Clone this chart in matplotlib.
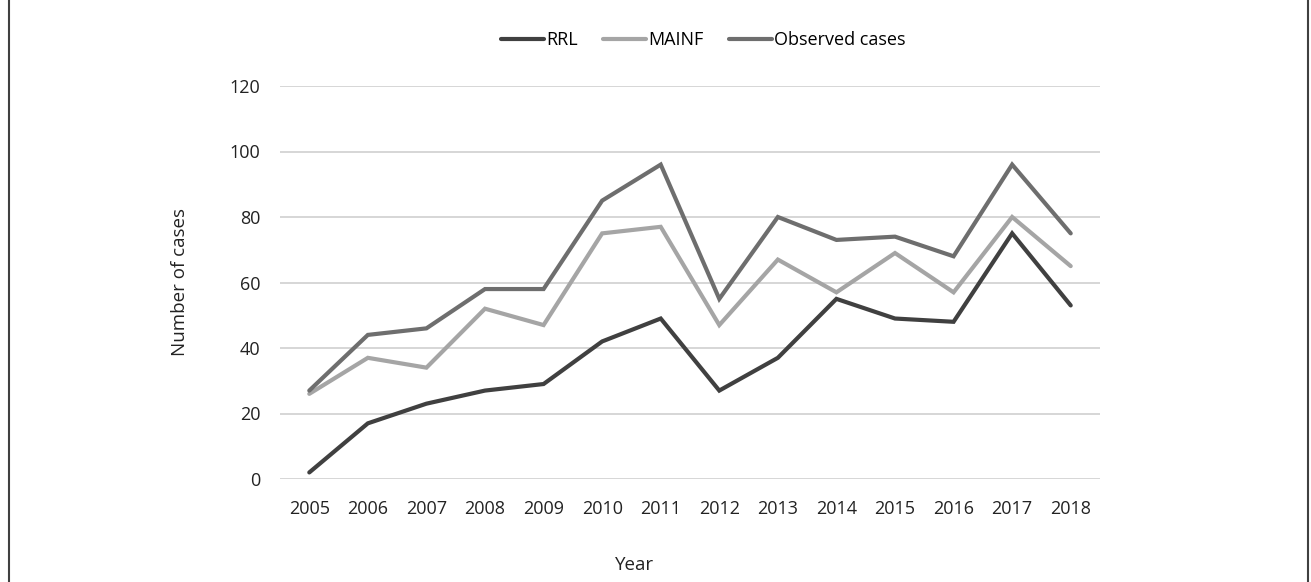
import matplotlib.pyplot as plt
from matplotlib.lines import Line2D
import numpy as np

plt.rcParams['font.family'] = ['Open Sans', 'DejaVu Sans']

years = ['2005', '2006', '2007', '2008', '2009', '2010', '2011',
         '2012', '2013', '2014', '2015', '2016', '2017', '2018']
rrl = [2, 17, 23, 27, 29, 42, 49, 27, 37, 55, 49, 48, 75, 53]
mainf = [26, 37, 34, 52, 47, 75, 77, 47, 67, 57, 69, 57, 80, 65]
observed = [27, 44, 46, 58, 58, 85, 96, 55, 80, 73, 74, 68, 96, 75]

W, H = 1311, 582
fig = plt.figure(figsize=(W / 100, H / 100), dpi=100)
ax = fig.add_axes([280 / W, 1 - 479 / H, 820 / W, 393 / H])

x = np.arange(len(years))
lw = 3.0
ax.plot(x, rrl, color='#404040', lw=lw, label='RRL', solid_capstyle='round', solid_joinstyle='miter')
ax.plot(x, mainf, color='#a5a5a5', lw=lw, label='MAINF', solid_capstyle='round', solid_joinstyle='miter')
ax.plot(x, observed, color='#6e6e6e', lw=lw, label='Observed cases', solid_capstyle='round', solid_joinstyle='miter')

ax.set_xlim(-0.5, len(years) - 0.5)
ax.set_ylim(0, 120)
ax.set_yticks(np.arange(0, 121, 20))
ax.set_xticks(x)
ax.set_xticklabels(years)
ax.yaxis.grid(True, color='#d0d0d0', lw=1.2)
ax.set_axisbelow(True)
for s in ax.spines.values():
    s.set_visible(False)
ax.tick_params(length=0, labelsize=13, colors='#222222')
ax.tick_params(axis='x', pad=15)
ax.tick_params(axis='y', pad=14)

fig.text(180 / W, 1 - 282 / H, 'Number of cases', rotation=90, ha='center', va='center',
         fontsize=13.5, color='#222222')
fig.text(635 / W, 1 - 565 / H, 'Year', ha='center', va='center', fontsize=13.5, color='#222222')

ax.legend(loc='center', bbox_to_anchor=(703 / W, 1 - 40 / H), bbox_transform=fig.transFigure,
          ncol=3, frameon=False, fontsize=13, handlelength=2.4, handletextpad=0.1,
          columnspacing=1.4)

fig.add_artist(Line2D([8.5 / W, 8.5 / W], [0, 1], color='#404040', lw=1.5))
fig.add_artist(Line2D([1307.5 / W, 1307.5 / W], [0, 1], color='#404040', lw=1.5))

fig.savefig('out.png', dpi=100)
